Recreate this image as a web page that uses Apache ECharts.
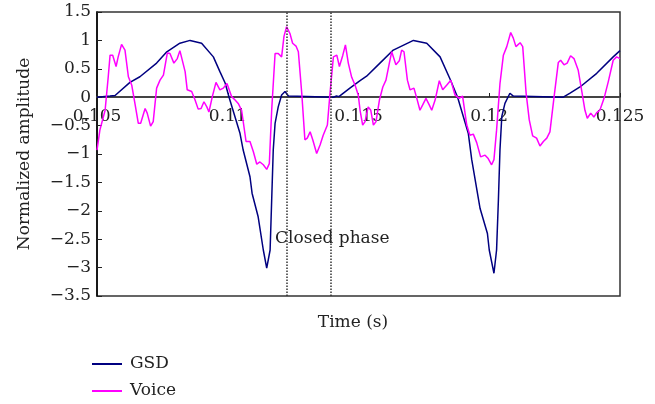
<!DOCTYPE html>
<html>
<head>
<meta charset="utf-8">
<script src="https://cdn.jsdelivr.net/npm/echarts@6/dist/echarts.min.js"></script>
<style>
    html, body { margin: 0; padding: 0; background: #fff; }
    #chart { width: 655px; height: 404px; }
</style>
</head>
<body>
<div id="chart"></div>
<script>
    // GSD
    var gsdTime = [0.10500, 0.10550, 0.10569, 0.10626, 0.10664, 0.10728, 0.10767, 0.10817, 0.10856, 0.10900,
        0.10945, 0.10970, 0.10990, 0.11005, 0.11047, 0.11059, 0.11085, 0.11093, 0.11116, 0.11136,
        0.11149, 0.11155, 0.11162, 0.11168, 0.11174, 0.11181, 0.11193, 0.11206, 0.11219, 0.11232,
        0.11238, 0.11404, 0.11416, 0.11425, 0.11467, 0.11506, 0.11531, 0.11582, 0.11633, 0.11710,
        0.11761, 0.11812, 0.11850, 0.11879, 0.11920, 0.11933, 0.11965, 0.11993, 0.12000, 0.12018,
        0.12028, 0.12035, 0.12041, 0.12048, 0.12060, 0.12079, 0.12092, 0.12283, 0.12309, 0.12347,
        0.12411, 0.12474, 0.12500];
    var gsdAmp = [0, 0.02, 0.03, 0.26, 0.36, 0.60, 0.80, 0.95, 1.00, 0.95,
        0.71, 0.45, 0.25, 0, -0.64, -0.93, -1.40, -1.69, -2.10, -2.69,
        -3.01, -3.04, -2.69, -1.81, -0.93, -0.46, -0.17, 0.04, 0.10, 0.02,
        0, 0, 0.02, 0.01, 0.16, 0.29, 0.37, 0.60, 0.83, 1.00,
        0.95, 0.71, 0.32, 0, -0.64, -1.10, -1.96, -2.40, -2.69, -3.10,
        -2.69, -1.81, -0.93, -0.34, -0.11, 0.07, 0.02, 0, 0.07, 0.18,
        0.42, 0.71, 0.82];

    // Voice
    var voiceTime = [0.10500, 0.10511, 0.10531, 0.10543, 0.10550, 0.10560, 0.10573, 0.10581, 0.10594, 0.10607,
        0.10620, 0.10633, 0.10645, 0.10658, 0.10667, 0.10684, 0.10692, 0.10705, 0.10715, 0.10728,
        0.10741, 0.10754, 0.10769, 0.10779, 0.10794, 0.10807, 0.10817, 0.10824, 0.10837, 0.10845,
        0.10862, 0.10875, 0.10887, 0.10898, 0.10909, 0.10920, 0.10928, 0.10941, 0.10955, 0.10970,
        0.10983, 0.10997, 0.11015, 0.11028, 0.11040, 0.11053, 0.11070, 0.11085, 0.11098, 0.11111,
        0.11123, 0.11136, 0.11149, 0.11159, 0.11168, 0.11181, 0.11193, 0.11206, 0.11215, 0.11225,
        0.11238, 0.11248, 0.11261, 0.11270, 0.11283, 0.11295, 0.11304, 0.11315, 0.11325, 0.11340,
        0.11353, 0.11365, 0.11381, 0.11391, 0.11404, 0.11417, 0.11427, 0.11440, 0.11450, 0.11461,
        0.11474, 0.11487, 0.11499, 0.11506, 0.11516, 0.11525, 0.11537, 0.11547, 0.11557, 0.11567,
        0.11580, 0.11593, 0.11605, 0.11618, 0.11627, 0.11643, 0.11656, 0.11665, 0.11674, 0.11687,
        0.11697, 0.11712, 0.11723, 0.11735, 0.11745, 0.11758, 0.11771, 0.11780, 0.11793, 0.11809,
        0.11822, 0.11837, 0.11853, 0.11869, 0.11885, 0.11898, 0.11914, 0.11926, 0.11939, 0.11952,
        0.11967, 0.11984, 0.11996, 0.12009, 0.12018, 0.12028, 0.12041, 0.12054, 0.12067, 0.12082,
        0.12092, 0.12102, 0.12118, 0.12128, 0.12141, 0.12153, 0.12166, 0.12181, 0.12194, 0.12207,
        0.12220, 0.12232, 0.12248, 0.12264, 0.12273, 0.12286, 0.12298, 0.12311, 0.12324, 0.12340,
        0.12353, 0.12366, 0.12375, 0.12388, 0.12400, 0.12411, 0.12423, 0.12439, 0.12455, 0.12474,
        0.12487, 0.12500];
    var voiceAmp = [-0.93, -0.58, -0.23, 0.36, 0.74, 0.74, 0.54, 0.71, 0.93, 0.83,
        0.36, 0.21, -0.11, -0.46, -0.46, -0.20, -0.28, -0.51, -0.43, 0.16,
        0.30, 0.39, 0.78, 0.77, 0.60, 0.68, 0.82, 0.80, 0.45, 0.13,
        0.10, -0.05, -0.21, -0.20, -0.08, -0.17, -0.26, 0.01, 0.26, 0.13,
        0.16, 0.24, 0.01, -0.05, -0.11, -0.23, -0.78, -0.78, -0.96, -1.18,
        -1.14, -1.19, -1.27, -1.17, -0.23, 0.77, 0.77, 0.71, 1.07, 1.24,
        1.12, 0.95, 0.90, 0.80, 0.07, -0.75, -0.72, -0.61, -0.75, -0.99,
        -0.84, -0.67, -0.49, 0.07, 0.71, 0.74, 0.54, 0.74, 0.92, 0.60,
        0.35, 0.21, 0.04, -0.23, -0.49, -0.43, -0.17, -0.23, -0.49, -0.43,
        -0.05, 0.18, 0.30, 0.60, 0.80, 0.57, 0.64, 0.83, 0.80, 0.30,
        0.13, 0.16, -0.02, -0.23, -0.14, -0.02, -0.14, -0.23, -0.05, 0.29,
        0.13, 0.21, 0.30, 0.04, -0.02, 0.02, -0.49, -0.67, -0.65, -0.80,
        -1.05, -1.02, -1.08, -1.19, -1.10, -0.58, 0.24, 0.74, 0.89, 1.14,
        1.04, 0.89, 0.96, 0.89, 0.07, -0.40, -0.68, -0.72, -0.86, -0.78,
        -0.72, -0.61, 0.01, 0.61, 0.65, 0.57, 0.60, 0.73, 0.68, 0.48,
        0.13, -0.23, -0.37, -0.28, -0.35, -0.27, -0.23, -0.02, 0.27, 0.65,
        0.71, 0.68];

    // 闭合相位的两条虚线
    var phaseBounds = [0.11227, 0.11395];

    function zip(xs, ys) {
        var out = [];
        for (var i = 0; i < xs.length; i++) {
            out.push([xs[i], ys[i]]);
        }
        return out;
    }

    var serif = 'DejaVu Serif';
    var ink = '#222';

    var option = {
        animation: false,
        backgroundColor: '#fff',
        grid: {
            left: 97, right: 35, top: 12, bottom: 108,
            show: true, borderColor: '#333', borderWidth: 1.5
        },
        legend: {
            orient: 'vertical',
            left: 92, top: 354,
            padding: 0,
            itemWidth: 30, itemHeight: 2, itemGap: 7,
            icon: 'rect',
            textStyle: { fontFamily: serif, fontSize: 17, color: ink, lineHeight: 20, padding: [0, 0, 0, 3] },
            data: ['GSD', 'Voice']
        },
        xAxis: {
            type: 'value',
            min: 0.105, max: 0.125, interval: 0.005,
            position: 'bottom',
            offset: -199,   // 把横轴移到 y=0 处
            axisLine: { onZero: false, lineStyle: { color: '#444', width: 2 } },
            axisTick: { inside: true, length: 4, lineStyle: { color: '#222' } },
            axisLabel: {
                margin: 11,
                showMinLabel: true, showMaxLabel: true,
                fontFamily: serif, fontSize: 17, color: ink,
                formatter: function (v) { return String(parseFloat(v.toFixed(3))); }
            },
            splitLine: { show: false }
        },
        yAxis: {
            type: 'value',
            min: -3.5, max: 1.5, interval: 0.5,
            name: 'Normalized amplitude',
            nameLocation: 'middle',
            nameGap: 64,
            nameTextStyle: { fontFamily: serif, fontSize: 17, color: ink },
            axisLine: { show: true, onZero: false, lineStyle: { color: '#000', width: 1.5 } },
            axisTick: { show: true, inside: true, length: 5, lineStyle: { color: '#222' } },
            axisLabel: {
                margin: 6,
                fontFamily: serif, fontSize: 17, color: ink,
                formatter: function (v) { return v < 0 ? '\u2212' + (-v) : String(v); }
            },
            splitLine: { show: false }
        },
        graphic: [
            {
                type: 'text', x: 353, y: 323,
                style: { text: 'Time (s)', font: '17px "DejaVu Serif"', fill: ink, align: 'center', verticalAlign: 'middle' }
            },
            {
                type: 'text', x: 275, y: 239,
                style: { text: 'Closed phase', font: '17px "DejaVu Serif"', fill: ink, align: 'left', verticalAlign: 'middle' }
            }
        ],
        series: [
            {
                name: 'GSD',
                type: 'line',
                showSymbol: false,
                data: zip(gsdTime, gsdAmp),
                lineStyle: { color: '#000080', width: 1.5 },
                itemStyle: { color: '#000080' },
                markLine: {
                    silent: true,
                    symbol: 'none',
                    precision: 6,
                    label: { show: false },
                    lineStyle: { color: '#333', type: 'dotted', width: 1.5 },
                    data: phaseBounds.map(function (t) { return { xAxis: t }; })
                }
            },
            {
                name: 'Voice',
                type: 'line',
                showSymbol: false,
                data: zip(voiceTime, voiceAmp),
                lineStyle: { color: '#ff00ff', width: 1.5 },
                itemStyle: { color: '#ff00ff' }
            }
        ]
    };

    var myChart = echarts.init(document.getElementById('chart'));
    myChart.setOption(option);
</script>
</body>
</html>
